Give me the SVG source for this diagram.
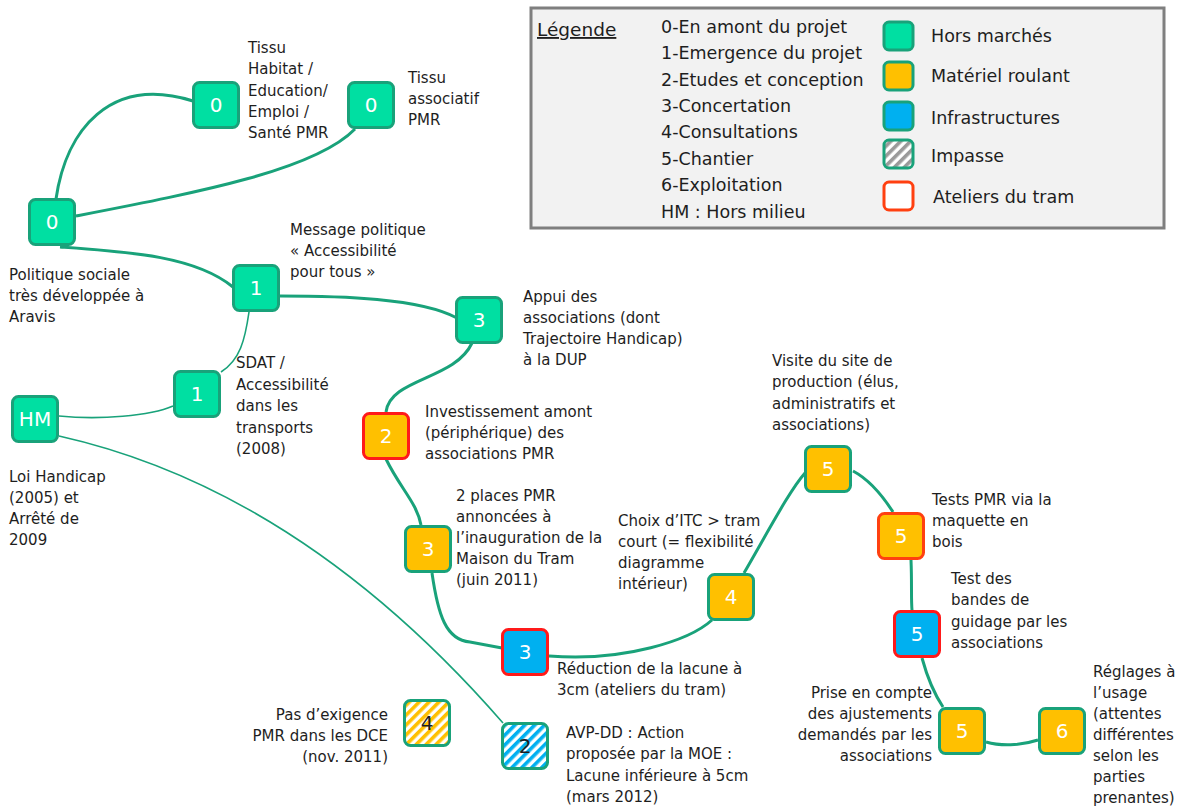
<svg xmlns="http://www.w3.org/2000/svg" width="1184" height="807" viewBox="0 0 1184 807">
<defs>
<pattern id="hatchY" patternUnits="userSpaceOnUse" width="7" height="7" patternTransform="rotate(45)"><rect width="7" height="7" fill="#fff"/><rect width="3.6" height="7" fill="#FFC000"/></pattern>
<pattern id="hatchB" patternUnits="userSpaceOnUse" width="7" height="7" patternTransform="rotate(45)"><rect width="7" height="7" fill="#fff"/><rect width="3.6" height="7" fill="#00B0F0"/></pattern>
<pattern id="hatchG" patternUnits="userSpaceOnUse" width="7" height="7" patternTransform="rotate(45)"><rect width="7" height="7" fill="#fff"/><rect width="3.6" height="7" fill="#9a9a9a"/></pattern>
</defs>
<style>
text{font-family:"DejaVu Sans","Noto Sans",sans-serif;fill:#1e1e1e;font-size:15px}
.n rect{stroke:#19A27A;stroke-width:3}
.n text{fill:#fff;font-size:20px;text-anchor:middle}
.hm{fill:#00DFA2}
.mr{fill:#FFC000}
.inf{fill:#00B0F0}
.red rect{stroke:#FF1A1A}
.org rect{stroke:#FF4010}
.c{fill:none;stroke:#19A27A;stroke-width:3}
.t{stroke-width:1.6}
.lg{font-size:17.5px}
.hn text{fill:#1e1e1e}
</style>
<rect x="531" y="8" width="633" height="220" fill="#F2F2F2" stroke="#7F7F7F" stroke-width="3"/>
<g id="legend">
<text x="537" y="36" class="lg" text-decoration="underline" style="font-size:18.5px">Légende</text>
<text x="661" y="33" class="lg">0-En amont du projet</text>
<text x="661" y="59" class="lg">1-Emergence du projet</text>
<text x="661" y="86" class="lg">2-Etudes et conception</text>
<text x="661" y="112" class="lg">3-Concertation</text>
<text x="661" y="138" class="lg">4-Consultations</text>
<text x="661" y="165" class="lg">5-Chantier</text>
<text x="661" y="191" class="lg">6-Exploitation</text>
<text x="661" y="218" class="lg">HM : Hors milieu</text>
<rect x="884" y="22" width="29" height="28" rx="5" fill="#00DFA2" stroke="#19A27A" stroke-width="3"/>
<rect x="884" y="62" width="29" height="28" rx="5" fill="#FFC000" stroke="#19A27A" stroke-width="3"/>
<rect x="884" y="102" width="29" height="28" rx="5" fill="#00B0F0" stroke="#19A27A" stroke-width="3"/>
<rect x="884" y="140" width="29" height="28" rx="5" fill="url(#hatchG)" stroke="#19A27A" stroke-width="3"/>
<rect x="884" y="182" width="29" height="28" rx="5" fill="#fff" stroke="#FF4010" stroke-width="3"/>
<text x="931" y="42" class="lg">Hors marchés</text>
<text x="931" y="82" class="lg">Matériel roulant</text>
<text x="931" y="124" class="lg">Infrastructures</text>
<text x="931" y="162" class="lg">Impasse</text>
<text x="933" y="203" class="lg">Ateliers du tram</text>
</g>
<g id="connectors">
<path class="c" d="M56 199 C66 130 110 75 193 101"/>
<path class="c" d="M76 216 C200 192 315 170 355 129"/>
<path class="c" d="M60 247 C130 252 195 256 233 287"/>
<path class="c" d="M280 296 C340 296 420 298 457 318"/>
<path class="c" d="M472 343 C455 380 390 378 386 412"/>
<path class="c" d="M386 459 C400 488 417 503 421 525"/>
<path class="c" d="M432 573 C438 615 446 640 470 642 L502 648"/>
<path class="c" d="M549 656 C625 662 690 640 712 620"/>
<path class="c" d="M744 573 C770 528 790 490 805 473"/>
<path class="c" d="M853 471 C870 480 884 498 893 512"/>
<path class="c" d="M911 560 C912 585 911 598 912 610"/>
<path class="c" d="M922 658 C928 680 935 695 943 707"/>
<path class="c" d="M986 742 C1000 746 1020 746 1038 740"/>
<path class="c t" d="M249 312 C245 340 240 360 221 372"/>
<path class="c t" d="M59 416 C100 420 150 416 173 406"/>
<path class="c t" d="M59 436 Q300 490 503 723"/>
</g>
<g id="n0a" class="n"><rect x="29.5" y="199.5" width="45" height="45" rx="6" class="hm"/><text x="52" y="229">0</text></g>
<g id="n0b" class="n"><rect x="193.5" y="82.5" width="45" height="45" rx="6" class="hm"/><text x="216" y="112">0</text></g>
<g id="n0c" class="n"><rect x="348.5" y="82.5" width="45" height="45" rx="6" class="hm"/><text x="371" y="112">0</text></g>
<g id="n1a" class="n"><rect x="233.5" y="265.5" width="45" height="45" rx="6" class="hm"/><text x="256" y="295">1</text></g>
<g id="n1b" class="n"><rect x="174.5" y="371.5" width="45" height="45" rx="6" class="hm"/><text x="197" y="401">1</text></g>
<g id="nHM" class="n"><rect x="12.5" y="396.5" width="45" height="45" rx="6" class="hm"/><text x="35" y="426">HM</text></g>
<g id="n3a" class="n"><rect x="456.5" y="297.5" width="45" height="45" rx="6" class="hm"/><text x="479" y="327">3</text></g>
<g id="n2a" class="n red"><rect x="363.5" y="413.5" width="45" height="45" rx="6" class="mr"/><text x="386" y="443">2</text></g>
<g id="n3b" class="n"><rect x="405.5" y="526.5" width="45" height="45" rx="6" class="mr"/><text x="428" y="556">3</text></g>
<g id="n3c" class="n red"><rect x="502.5" y="629.5" width="45" height="45" rx="6" class="inf"/><text x="525" y="659">3</text></g>
<g id="n4a" class="n"><rect x="708.5" y="574.5" width="45" height="45" rx="6" class="mr"/><text x="731" y="604">4</text></g>
<g id="n5a" class="n"><rect x="805.5" y="446.5" width="45" height="45" rx="6" class="mr"/><text x="828" y="476">5</text></g>
<g id="n5b" class="n org"><rect x="878.5" y="513.5" width="45" height="45" rx="6" class="mr"/><text x="901" y="543">5</text></g>
<g id="n5c" class="n red"><rect x="894.5" y="611.5" width="45" height="45" rx="6" class="inf"/><text x="917" y="641">5</text></g>
<g id="n5d" class="n"><rect x="939.5" y="708.5" width="45" height="45" rx="6" class="mr"/><text x="962" y="738">5</text></g>
<g id="n6" class="n"><rect x="1039.5" y="708.5" width="45" height="45" rx="6" class="mr"/><text x="1062" y="738">6</text></g>
<g id="n4b" class="n hn"><rect x="404.5" y="700.5" width="45" height="45" rx="6" fill="url(#hatchY)"/><text x="427" y="730">4</text></g>
<g id="n2b" class="n hn"><rect x="502.5" y="723.5" width="45" height="45" rx="6" fill="url(#hatchB)"/><text x="525" y="753">2</text></g>
<g id="labels">
<text x="248" y="53"><tspan x="248">Tissu</tspan><tspan x="248" dy="21.3">Habitat /</tspan><tspan x="248" dy="21.3">Education/</tspan><tspan x="248" dy="21.3">Emploi /</tspan><tspan x="248" dy="21.3">Santé PMR</tspan></text>
<text x="408" y="83"><tspan x="408">Tissu</tspan><tspan x="408" dy="21">associatif</tspan><tspan x="408" dy="21">PMR</tspan></text>
<text x="9" y="280"><tspan x="9">Politique sociale</tspan><tspan x="9" dy="21">très développée à</tspan><tspan x="9" dy="21">Aravis</tspan></text>
<text x="290" y="235"><tspan x="290">Message politique</tspan><tspan x="290" dy="21">« Accessibilité</tspan><tspan x="290" dy="21">pour tous »</tspan></text>
<text x="523" y="302"><tspan x="523">Appui des</tspan><tspan x="523" dy="21">associations (dont</tspan><tspan x="523" dy="21">Trajectoire Handicap)</tspan><tspan x="523" dy="21">à la DUP</tspan></text>
<text x="236" y="368"><tspan x="236">SDAT /</tspan><tspan x="236" dy="21.5">Accessibilité</tspan><tspan x="236" dy="21.5">dans les</tspan><tspan x="236" dy="21.5">transports</tspan><tspan x="236" dy="21.5">(2008)</tspan></text>
<text x="9" y="482"><tspan x="9">Loi Handicap</tspan><tspan x="9" dy="21">(2005) et</tspan><tspan x="9" dy="21">Arrêté de</tspan><tspan x="9" dy="21">2009</tspan></text>
<text x="425" y="417"><tspan x="425">Investissement amont</tspan><tspan x="425" dy="21">(périphérique) des</tspan><tspan x="425" dy="21">associations PMR</tspan></text>
<text x="456" y="501"><tspan x="456">2 places PMR</tspan><tspan x="456" dy="21">annoncées à</tspan><tspan x="456" dy="21">l’inauguration de la</tspan><tspan x="456" dy="21">Maison du Tram</tspan><tspan x="456" dy="21">(juin 2011)</tspan></text>
<text x="618" y="526"><tspan x="618">Choix d’ITC &gt; tram</tspan><tspan x="618" dy="21">court (= flexibilité</tspan><tspan x="618" dy="21">diagramme</tspan><tspan x="618" dy="21">intérieur)</tspan></text>
<text x="772" y="366"><tspan x="772">Visite du site de</tspan><tspan x="772" dy="21.3">production (élus,</tspan><tspan x="772" dy="21.3">administratifs et</tspan><tspan x="772" dy="21.3">associations)</tspan></text>
<text x="932" y="505"><tspan x="932">Tests PMR via la</tspan><tspan x="932" dy="21">maquette en</tspan><tspan x="932" dy="21">bois</tspan></text>
<text x="951" y="584"><tspan x="951">Test des</tspan><tspan x="951" dy="21.3">bandes de</tspan><tspan x="951" dy="21.3">guidage par les</tspan><tspan x="951" dy="21.3">associations</tspan></text>
<text x="932" y="698" text-anchor="end"><tspan x="932">Prise en compte</tspan><tspan x="932" dy="21">des ajustements</tspan><tspan x="932" dy="21">demandés par les</tspan><tspan x="932" dy="21">associations</tspan></text>
<text x="1093" y="677"><tspan x="1093">Réglages à</tspan><tspan x="1093" dy="21">l’usage</tspan><tspan x="1093" dy="21">(attentes</tspan><tspan x="1093" dy="21">différentes</tspan><tspan x="1093" dy="21">selon les</tspan><tspan x="1093" dy="21">parties</tspan><tspan x="1093" dy="21">prenantes)</tspan></text>
<text x="557" y="674"><tspan x="557">Réduction de la lacune à</tspan><tspan x="557" dy="21">3cm (ateliers du tram)</tspan></text>
<text x="388" y="720" text-anchor="end"><tspan x="388">Pas d’exigence</tspan><tspan x="388" dy="21">PMR dans les DCE</tspan><tspan x="388" dy="21">(nov. 2011)</tspan></text>
<text x="566" y="738"><tspan x="566">AVP-DD : Action</tspan><tspan x="566" dy="21.3">proposée par la MOE :</tspan><tspan x="566" dy="21.3">Lacune inférieure à 5cm</tspan><tspan x="566" dy="21.3">(mars 2012)</tspan></text>
</g>
</svg>
